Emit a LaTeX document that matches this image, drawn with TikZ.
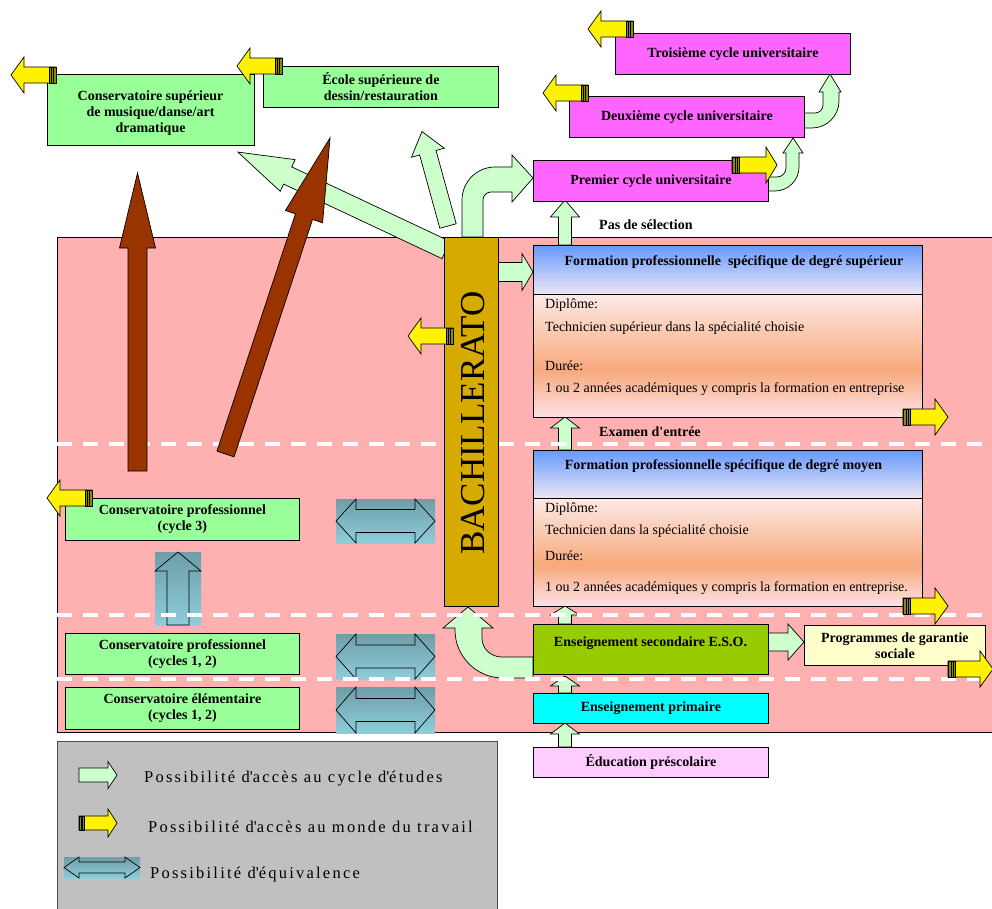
\documentclass[tikz,border=0pt]{standalone}
\usepackage{fontspec}
\setmainfont{Liberation Serif}
\newfontfamily\legfont[LetterSpace=13.5]{Liberation Serif}
\definecolor{pinkbg}{HTML}{FFB0B0}
\definecolor{boxgreen}{HTML}{99FF99}
\definecolor{magbox}{HTML}{FF66FF}
\definecolor{lgreen}{HTML}{CCFFCC}
\definecolor{brownarr}{HTML}{993300}
\definecolor{bachgold}{HTML}{D6AA00}
\definecolor{esogreen}{HTML}{99CC00}
\definecolor{primcyan}{HTML}{00FFFF}
\definecolor{prescol}{HTML}{FFCCFF}
\definecolor{progyel}{HTML}{FFFFCC}
\definecolor{leggrey}{HTML}{C0C0C0}
\definecolor{eqtop}{HTML}{6E9EA8}
\definecolor{eqbot}{HTML}{8ECDDA}
\definecolor{hdrtop}{HTML}{6699FF}
\definecolor{hdrbot}{HTML}{ECE6F4}
\definecolor{bodytop}{HTML}{FDEAE6}
\definecolor{bodymid}{HTML}{F7A97C}
\definecolor{bodybot}{HTML}{FDE2E6}
\definecolor{stripecol}{HTML}{8C8C00}
\newcommand\barw[7]{\filldraw[#1, shift={#2}, rotate=#3] (0,-#5) -- ({#4-#7},-#5) -- ({#4-#7},-#6) -- (#4,0) -- ({#4-#7},#6) -- ({#4-#7},#5) -- (0,#5) -- cycle;}
\newcommand\yarw[7]{%
 \begin{scope}[shift={#1}, rotate=#2]
  \filldraw[yarr] (0,-#4) -- ({#3-#6},-#4) -- ({#3-#6},-#5) -- (#3,0) -- ({#3-#6},#5) -- ({#3-#6},#4) -- (0,#4) -- cycle;
  \filldraw[fill=stripecol, draw=black, line width=0.6pt] (0,-#4) rectangle (#7,#4);
  \draw[line width=0.6pt] ({#7*0.4},-#4) -- ({#7*0.4},#4) ({#7*0.7},-#4) -- ({#7*0.7},#4);
 \end{scope}}
\newcommand\eqharw[6]{%
 \shade[top color=eqtop,bottom color=eqbot] (#1,#2) rectangle (#3,#4);
 \draw[eqline] (#1,{(#2+#4)/2}) -- ({#1+#5},#2) -- ({#1+#5},{(#2+#4)/2-#6}) -- ({#3-#5},{(#2+#4)/2-#6}) -- ({#3-#5},#2) -- (#3,{(#2+#4)/2}) -- ({#3-#5},#4) -- ({#3-#5},{(#2+#4)/2+#6}) -- ({#1+#5},{(#2+#4)/2+#6}) -- ({#1+#5},#4) -- cycle;}
\newcommand\eqvarw[6]{%
 \shade[top color=eqtop,bottom color=eqbot] (#1,#2) rectangle (#3,#4);
 \draw[eqline] ({(#1+#3)/2},#2) -- (#3,{#2+#5}) -- ({(#1+#3)/2+#6},{#2+#5}) -- ({(#1+#3)/2+#6},#4) -- ({(#1+#3)/2-#6},#4) -- ({(#1+#3)/2-#6},{#2+#5}) -- (#1,{#2+#5}) -- cycle;}
\begin{document}
\begin{tikzpicture}[x=1pt,y=-1pt,
  bx/.style={draw=black, line width=0.8pt, anchor=north west, inner sep=1pt, align=center, font=\fontsize{14}{16}\selectfont\bfseries},
  bold14/.style={font=\fontsize{14}{16}\selectfont\bfseries, align=center},
  bodytxt/.style={anchor=west, inner sep=0pt, font=\fontsize{14}{16}\selectfont},
  legtext/.style={anchor=west, inner sep=0pt, font=\fontsize{16.5}{18}\legfont},
  garr/.style={fill=lgreen, draw=black, line width=0.7pt},
  brarr/.style={fill=brownarr, draw=black, line width=0.7pt},
  yarr/.style={fill=yellow, draw=black, line width=0.7pt},
  eqline/.style={draw=black, line width=0.7pt},
  dashline/.style={white, line width=4pt, dash pattern=on 15pt off 11pt},
]
\useasboundingbox (0,0) rectangle (992,909);
% background zones
\fill[pinkbg] (57,237) rectangle (1000,732);
\draw[line width=0.8pt] (57,237) rectangle (1000,732);
\filldraw[fill=leggrey, draw=black!70, line width=0.8pt] (57,741) rectangle (497,915);
% equivalence arrows
\eqharw{336}{499}{435}{543}{20}{11.5}
\eqharw{336}{634}{435}{679}{20}{11.5}
\eqharw{336}{687}{435}{733}{20}{11.5}
\eqvarw{155}{552}{201}{625}{19}{11}
% green access arrows
\barw{garr}{(446,250)}{154.8}{230}{9.5}{17.5}{55}
\barw{garr}{(448,226)}{105.4}{98}{8.5}{17}{22}
\filldraw[garr] (462,237) -- (462,200) .. controls (462,181.8) and (476.8,167) .. (495,167) -- (512,167) -- (512,155) -- (533,178) -- (512,202) -- (512,192) -- (491,192) .. controls (486.6,192) and (483,195.6) .. (483,200) -- (483,237) -- cycle;
\barw{garr}{(498,272)}{0}{35}{9.5}{18.5}{11}
\barw{garr}{(565,245)}{90}{45}{6.5}{14.5}{17}
\barw{garr}{(565,450)}{90}{33}{6.5}{14.5}{11}
\barw{garr}{(565,624)}{90}{18}{6.5}{14.5}{9}
\barw{garr}{(565,693)}{90}{17}{6.5}{14.5}{10}
\barw{garr}{(565,747)}{90}{24}{6.5}{14.5}{11}
\barw{garr}{(768,642)}{0}{36}{9}{18}{16}
\filldraw[garr] (533,678) -- (503,678) .. controls (476.5,678) and (455,656.5) .. (455,630) -- (455,628) -- (443,628) -- (468,607) -- (493,628) -- (482,628) -- (482,638) .. controls (482,649) and (491,657) .. (502,657) -- (533,657) -- cycle;
\filldraw[garr] (768,191) -- (775,191) .. controls (788.2,191) and (799,180.2) .. (799,167) -- (799,153) -- (803,153) -- (793,138) -- (783,153) -- (786,153) -- (786,168) .. controls (786,173) and (782,177) .. (777,177) -- (768,177) -- cycle;
\filldraw[garr] (804,128) -- (812,128) .. controls (826.9,128) and (839,115.9) .. (839,101) -- (839,92) -- (841,92) -- (830,74) -- (819,92) -- (823,92) -- (823,105) .. controls (823,109.4) and (819.4,113) .. (815,113) -- (804,113) -- cycle;
% dashed separators
\draw[dashline] (57,444) -- (992,444);
\draw[dashline] (57,615) -- (992,615);
\draw[dashline] (57,679) -- (992,679);
% brown arrows
\barw{brarr}{(137.5,471)}{90}{298}{9.5}{18}{75}
\barw{brarr}{(225.5,454)}{71.7}{333}{9}{19.6}{83}
% boxes
\node[bx, fill=boxgreen, minimum width=207pt, minimum height=71pt] (cs) at (47,74) {};
\node[bold14] at (150.5,113) {Conservatoire supérieur\\de musique/danse/art\\dramatique};
\node[bx, fill=boxgreen, minimum width=235pt, minimum height=41pt] (ecole) at (263,66) {École supérieure de\\dessin/restauration};
\node[bx, fill=magbox, minimum width=235pt, minimum height=41pt] (trois) at (615,33) {Troisième cycle universitaire};
\node[bx, fill=magbox, minimum width=235pt, minimum height=41pt] (deux) at (569,96) {Deuxième cycle universitaire};
\node[bx, fill=magbox, minimum width=235pt, minimum height=41pt] (prem) at (533,160) {Premier cycle universitaire};
\node[bx, fill=boxgreen, minimum width=234pt, minimum height=42pt] (cp3) at (65,498) {Conservatoire professionnel\\(cycle 3)};
\node[bx, fill=boxgreen, minimum width=234pt, minimum height=41pt] (cp12) at (65,633) {Conservatoire professionnel\\(cycles 1, 2)};
\node[bx, fill=boxgreen, minimum width=234pt, minimum height=42pt] (celem) at (65,687) {Conservatoire élémentaire\\(cycles 1, 2)};
\node[bx, fill=esogreen, minimum width=235pt, minimum height=50pt] (eso) at (533,624) {};
\node[bold14] at (650.5,643) {Enseignement secondaire E.S.O.};
\node[bx, fill=progyel, minimum width=181pt, minimum height=40pt] (prog) at (804,625) {Programmes de garantie\\sociale};
\node[bx, fill=primcyan, minimum width=235pt, minimum height=30pt] (prim) at (533,693) {Enseignement primaire};
\node[bx, fill=prescol, minimum width=235pt, minimum height=30pt] (presco) at (533,747) {Éducation préscolaire};
% formation professionnelle supérieur
\shade[top color=hdrtop,bottom color=hdrbot] (533,245) rectangle (922,294);
\shade[top color=bodytop,bottom color=bodymid] (533,294) rectangle (922,370);
\shade[top color=bodymid,bottom color=bodybot] (533,370) rectangle (922,417);
\node[draw, line width=0.8pt, anchor=north west, minimum width=389pt, minimum height=172pt, inner sep=0pt] (fsup) at (533,245) {};
\draw[line width=0.8pt] (533,294) -- (922,294);
\node[bold14] at (734,262) {Formation professionnelle\ \ spécifique de degré supérieur};
\node[bodytxt] at (545,305) {Diplôme:};
\node[bodytxt] at (545,328) {Technicien supérieur dans la spécialité choisie};
\node[bodytxt] at (545,366) {Durée:};
\node[bodytxt] at (545,389) {1 ou 2 années académiques y compris la formation en entreprise};
% formation professionnelle moyen
\shade[top color=hdrtop,bottom color=hdrbot] (533,450) rectangle (922,498);
\shade[top color=bodytop,bottom color=bodymid] (533,498) rectangle (922,565);
\shade[top color=bodymid,bottom color=bodybot] (533,565) rectangle (922,606);
\node[draw, line width=0.8pt, anchor=north west, minimum width=389pt, minimum height=156pt, inner sep=0pt] (fmoy) at (533,450) {};
\draw[line width=0.8pt] (533,498) -- (922,498);
\node[bold14] at (723.5,466) {Formation professionnelle spécifique de degré moyen};
\node[bodytxt] at (545,509) {Diplôme:};
\node[bodytxt] at (545,531) {Technicien dans la spécialité choisie};
\node[bodytxt] at (545,556) {Durée:};
\node[bodytxt] at (545,588) {1 ou 2 années académiques y compris la formation en entreprise.};
% bachillerato
\node[draw, line width=0.8pt, fill=bachgold, anchor=north west, minimum width=54pt, minimum height=369pt, inner sep=0pt] (bach) at (444,237) {};
\node[rotate=90, font=\fontsize{35}{35}\selectfont] at (473,423) {BACHILLERATO};
% labels
\node[bold14, anchor=west, inner sep=0pt] (pas) at (599,225) {Pas de sélection};
\node[bold14, anchor=west, inner sep=0pt] (exam) at (599,432) {Examen d\textquotesingle{}entrée};
% yellow work arrows
\yarw{(56,75)}{180}{45}{8}{18}{13}{7}
\yarw{(282,66)}{180}{45}{8}{18}{13}{7}
\yarw{(633,29)}{180}{45}{8}{18}{13}{7}
\yarw{(588,93)}{180}{45}{8}{18}{13}{7}
\yarw{(732,165)}{0}{45}{8}{18}{11}{7}
\yarw{(903,417)}{0}{45}{8}{18}{13}{7}
\yarw{(903,606)}{0}{45}{8}{18}{13}{7}
\yarw{(948,669)}{0}{45}{8}{18}{13}{7}
\yarw{(453,336)}{180}{45}{8}{18}{13}{7}
\yarw{(92,498)}{180}{45}{8}{18}{13}{7}
% legend
\barw{garr}{(79,775)}{0}{38}{7}{13.5}{9}
\yarw{(79,823)}{0}{38}{7}{14}{9}{5}
\eqharw{64}{857}{140}{878}{15}{5.5}
\node[legtext] (l1) at (144,779) {Possibilité d\textquotesingle{}accès au cycle d\textquotesingle{}études};
\node[legtext] (l2) at (148,827) {Possibilité d\textquotesingle{}accès au monde du travail};
\node[legtext] (l3) at (150,875) {Possibilité d\textquotesingle{}équivalence};
\end{tikzpicture}
\end{document}
